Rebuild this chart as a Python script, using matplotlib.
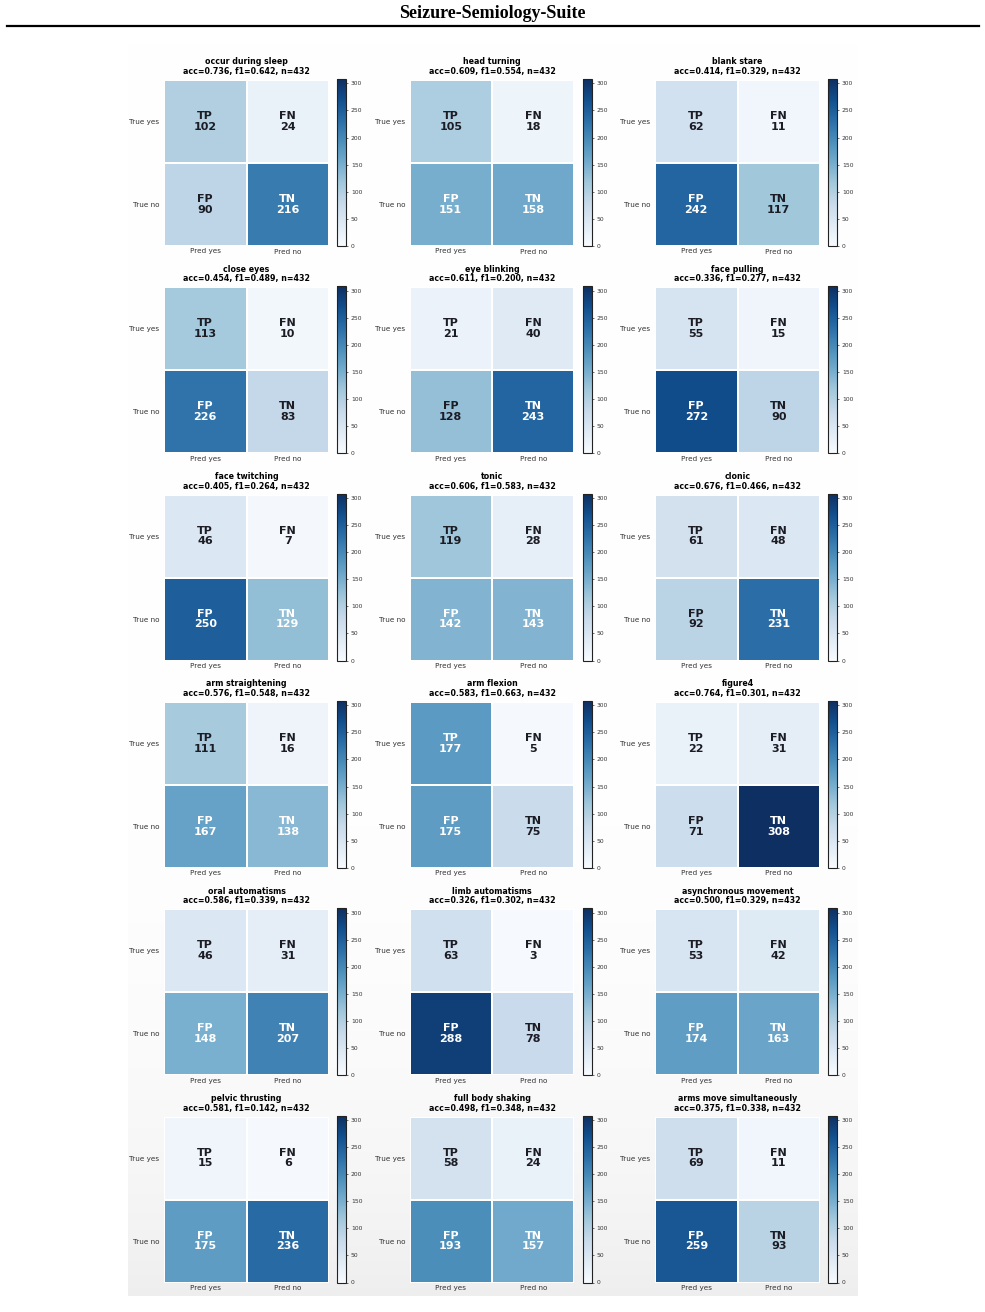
import numpy as np
import matplotlib
matplotlib.use("Agg")
import matplotlib.pyplot as plt
from matplotlib.lines import Line2D
from matplotlib.colors import Normalize, ListedColormap

# ---------------- data ----------------
names = ["occur during sleep", "head turning", "blank stare",
         "close eyes", "eye blinking", "face pulling",
         "face twitching", "tonic", "clonic",
         "arm straightening", "arm flexion", "figure4",
         "oral automatisms", "limb automatisms", "asynchronous movement",
         "pelvic thrusting", "full body shaking", "arms move simultaneously"]
acc = ["0.736", "0.609", "0.414", "0.454", "0.611", "0.336",
       "0.405", "0.606", "0.676", "0.576", "0.583", "0.764",
       "0.586", "0.326", "0.500", "0.581", "0.498", "0.375"]
f1 = ["0.642", "0.554", "0.329", "0.489", "0.200", "0.277",
      "0.264", "0.583", "0.466", "0.548", "0.663", "0.301",
      "0.339", "0.302", "0.329", "0.142", "0.348", "0.338"]
n_total = [432] * 18
tp = [102, 105, 62, 113, 21, 55, 46, 119, 61, 111, 177, 22, 46, 63, 53, 15, 58, 69]
fn = [24, 18, 11, 10, 40, 15, 7, 28, 48, 16, 5, 31, 31, 3, 42, 6, 24, 11]
fp = [90, 151, 242, 226, 128, 272, 250, 142, 92, 167, 175, 71, 148, 288, 174, 175, 193, 259]
tn = [216, 158, 117, 83, 243, 90, 129, 143, 231, 138, 75, 308, 207, 78, 163, 236, 157, 93]
row_labels = ["True yes", "True no"]
col_labels = ["Pred yes", "Pred no"]
cell_tags = [["TP", "FN"], ["FP", "TN"]]
cbar_ticks = [0, 50, 100, 150, 200, 250, 300]

# ---------------- figure ----------------
W, H = 985, 1312
fig = plt.figure(figsize=(W / 100, H / 100), dpi=100)
fig.patch.set_facecolor("white")

def rect(x0, y0, w, h):
    return [x0 / W, 1 - (y0 + h) / H, w / W, h / H]

# faint background gradient of the embedded image (smooth RGB ramp)
bg = fig.add_axes(rect(128, 40, 730, 1256), zorder=-5)
ramp = 1.0 - 0.065 * np.linspace(0, 1, 1256) ** 6
img = np.repeat(np.repeat(ramp[:, None, None], 3, axis=2), 2, axis=1)
bg.imshow(img, aspect="auto", extent=[0, 1, 1, 0], interpolation="bilinear")
bg.set_axis_off()

# header
fig.text(0.5, 1 - 13 / H, "Seizure-Semiology-Suite", ha="center", va="center",
         family="Liberation Serif", weight="bold", fontsize=13)
fig.add_artist(Line2D([7 / W, 979 / W], [1 - 26 / H] * 2, color="black", lw=1.6))

# slightly muted Blues (the reference image is a little desaturated)
base = plt.get_cmap("Blues")(np.linspace(0, 1, 256))[:, :3]
gray = (base @ np.array([0.3, 0.59, 0.11]))[:, None]
muted = base * 0.84 + gray * 0.16
cmap = ListedColormap(muted)

vmax = max(max(tp), max(fn), max(fp), max(tn))
norm = Normalize(vmin=0, vmax=vmax)

col_x = [164, 409.5, 655]
row_y0 = 80
row_step = 207.3
hm_w, hm_h = 165, 166

for i in range(18):
    r, c = divmod(i, 3)
    x0 = col_x[c]
    y0 = row_y0 + r * row_step
    ax = fig.add_axes(rect(x0, y0, hm_w, hm_h))
    mat = np.array([[tp[i], fn[i]], [fp[i], tn[i]]])
    mesh = ax.pcolormesh(mat, cmap=cmap, norm=norm, edgecolors="white", linewidth=1.4)
    ax.set_xlim(0, 2)
    ax.set_ylim(2, 0)
    for a in range(2):
        for b in range(2):
            v = mat[a, b]
            color = "white" if v > 0.418 * vmax else "#1c1c24"
            ax.text(b + 0.5, a + 0.5, f"{cell_tags[a][b]}\n{v}", ha="center", va="center",
                    fontsize=8.0, weight="bold", color=color, linespacing=1.08)
    ax.set_xticks([0.5, 1.5])
    ax.set_xticklabels(col_labels, fontsize=5.2, color="#333333")
    ax.set_yticks([0.5, 1.5])
    ax.set_yticklabels(row_labels, fontsize=5.2, color="#333333")
    ax.tick_params(axis="y", length=0, pad=3.2)
    ax.tick_params(axis="x", length=0, pad=1.8)
    for s in ax.spines.values():
        s.set_visible(False)
    ax.set_title(f"{names[i]}\nacc={acc[i]}, f1={f1[i]}, n={n_total[i]}",
                 fontsize=5.7, weight="bold", pad=4.2, linespacing=1.12)

    cax = fig.add_axes(rect(x0 + 173, y0 - 1, 9, hm_h + 1))
    cb = fig.colorbar(mesh, cax=cax, ticks=cbar_ticks)
    cb.ax.tick_params(labelsize=4.3, length=1.5, width=0.5, pad=2, colors="#333333")
    cb.outline.set_linewidth(0.8)
    cb.outline.set_edgecolor("#222222")

fig.savefig("out.png", dpi=100, facecolor="white")
